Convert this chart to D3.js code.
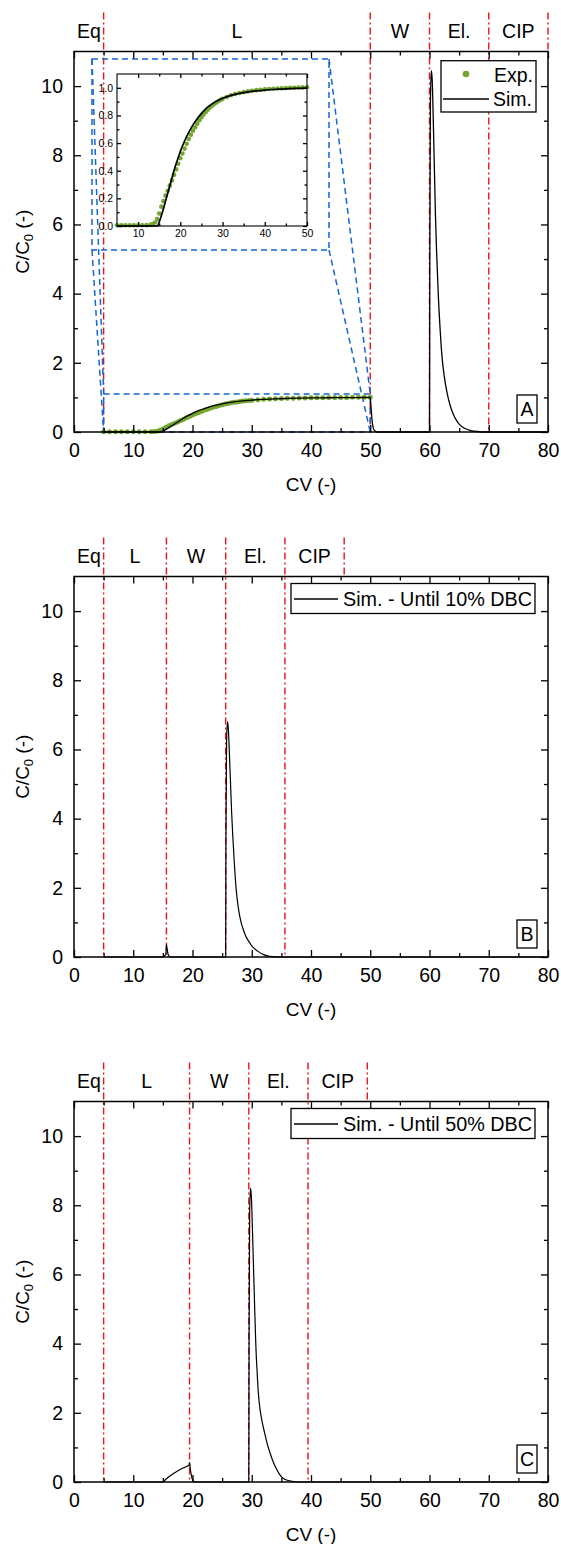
<!DOCTYPE html>
<html>
<head>
<meta charset="utf-8">
<script src="https://cdn.jsdelivr.net/npm/d3@7"></script>
<style>
  body { margin: 0; background: #fff; }
  svg { display: block; }
  text { font-family: "Liberation Sans", Arial, sans-serif; fill: #000; }
</style>
</head>
<body>
<svg id="chart" width="561" height="1544"></svg>
<script>
// ---- data ----
const sectionNames = ["Eq", "L", "W", "El.", "CIP"];
const boundsA = [0, 5, 50, 60, 70, 80];
const boundsB = [0, 5, 15.6, 25.6, 35.6, 45.6];
const boundsC = [0, 5, 19.5, 29.5, 39.5, 49.5];

const xTicks = [0, 10, 20, 30, 40, 50, 60, 70, 80];
const yTicks = [0, 2, 4, 6, 8, 10];
const insetXTicks = [10, 20, 30, 40, 50];
const insetYTicks = [0, 0.2, 0.4, 0.6, 0.8, 1.0];

// panel A, simulated [CV, C/C0]
const simA = [
  [5, 0], [14.6, 0], [15, 0.03], [15.5, 0.075], [16, 0.125], [16.5, 0.18], [17, 0.235],
  [17.5, 0.29], [18, 0.345], [18.5, 0.4], [19, 0.45], [19.5, 0.495], [20, 0.54],
  [21, 0.615], [22, 0.678], [23, 0.732], [24, 0.777], [25, 0.815], [26, 0.848],
  [27, 0.873], [28, 0.893], [29, 0.91], [30, 0.924], [32, 0.945], [34, 0.96],
  [36, 0.97], [38, 0.978], [40, 0.984], [42, 0.988], [44, 0.991], [46, 0.994],
  [48, 0.996], [50, 0.998], [50.1, 0.8], [50.3, 0.35], [50.5, 0.12], [50.8, 0.03],
  [51.2, 0], [60, 0], [60.05, 5], [60.15, 9.5], [60.3, 10.45], [60.45, 10.2],
  [60.6, 9.3], [60.8, 7.8], [61, 6.3], [61.2, 5.2], [61.5, 3.9], [61.8, 2.95],
  [62.1, 2.2], [62.5, 1.6], [63, 1.1], [63.5, 0.76], [64, 0.52], [64.5, 0.35],
  [65, 0.23], [66, 0.1], [67, 0.04], [68, 0.015], [70, 0], [80, 0]
];

// panel A, experimental [CV, C/C0]
const expA = [
  [5, 0.005], [6, 0.005], [7, 0.005], [8, 0.005], [9, 0.005], [10, 0.005], [11, 0.005],
  [12, 0.006], [13, 0.01], [13.5, 0.015], [14, 0.025], [14.5, 0.05], [15, 0.09],
  [15.5, 0.14], [16, 0.18], [16.5, 0.22], [17, 0.255], [17.5, 0.292], [18, 0.33],
  [18.5, 0.37], [19, 0.41], [19.5, 0.45], [20, 0.49], [20.5, 0.525], [21, 0.56],
  [21.5, 0.595], [22, 0.63], [22.5, 0.66], [23, 0.69], [23.5, 0.715], [24, 0.74],
  [24.5, 0.765], [25, 0.787], [25.5, 0.807], [26, 0.825], [26.5, 0.842], [27, 0.857],
  [27.5, 0.87], [28, 0.882], [28.5, 0.893], [29, 0.903], [29.5, 0.912], [30, 0.92],
  [31, 0.934], [32, 0.946], [33, 0.955], [34, 0.963], [35, 0.969], [36, 0.974],
  [37, 0.979], [38, 0.983], [39, 0.986], [40, 0.989], [41, 0.991], [42, 0.993],
  [43, 0.995], [44, 0.997], [45, 0.998], [46, 1.0], [47, 1.001], [48, 1.002],
  [49, 1.003], [50, 1.004]
];

// panel B, simulated until 10% DBC
const simB = [
  [5, 0], [14.8, 0], [15.2, 0.03], [15.5, 0.08], [15.6, 0.36], [15.7, 0.25],
  [15.85, 0.1], [16, 0.03], [16.3, 0], [25.6, 0], [25.65, 3.5], [25.75, 6.2],
  [25.9, 6.8], [26.05, 6.6], [26.2, 6.0], [26.4, 5.1], [26.6, 4.2], [26.8, 3.5],
  [27.1, 2.6], [27.4, 1.9], [27.8, 1.35], [28.2, 1.0], [28.6, 0.78], [29, 0.6],
  [29.5, 0.45], [30, 0.32], [31, 0.17], [32, 0.07], [33, 0.02], [35, 0], [80, 0]
];

// panel C, simulated until 50% DBC
const simC = [
  [5, 0], [15, 0], [15.5, 0.08], [16, 0.15], [16.5, 0.21], [17, 0.27], [17.5, 0.32],
  [18, 0.37], [18.5, 0.41], [19, 0.45], [19.4, 0.48], [19.5, 0.56], [19.6, 0.42],
  [19.8, 0.2], [20, 0.07], [20.2, 0.02], [20.5, 0], [29.5, 0], [29.55, 4],
  [29.65, 7.8], [29.8, 8.5], [29.95, 8.2], [30.1, 7.4], [30.3, 6.2], [30.5, 5.0],
  [30.7, 3.9], [30.9, 3.2], [31.1, 2.6], [31.4, 2.1], [31.8, 1.7], [32.2, 1.4],
  [32.7, 1.05], [33.2, 0.78], [33.7, 0.55], [34.2, 0.37], [34.7, 0.22], [35.2, 0.12],
  [36, 0.05], [37, 0.015], [38, 0], [80, 0]
];

// zoomed window shown in the inset (data units)
const zoomCv = [5, 50];
const zoomConc = [0, 1.1];

// ---- layout ----
const RED = "#e8141c";
const BLUE = "#1566d6";
const GREEN = "#74a62c";
const FONT = 19.5;
const TITLE = 19;

const left = 74, right = 548, plotH = 380.5;
const panelTops = [51.5, 576.5, 1101.5];

const svg = d3.select("#chart");
const x = d3.scaleLinear().domain([0, 80]).range([left, right]);
const xMinor = d3.range(5, 80, 10);
const yMinor = d3.range(1, 11, 2);

function styleAxis(g, size) {
  g.select(".domain").remove();
  g.selectAll(".tick line").attr("stroke", "#000").attr("stroke-width", 1.3);
  g.selectAll(".tick text").attr("font-size", size).attr("fill", "#000")
    .attr("font-family", '"Liberation Sans", Arial, sans-serif');
}

// box with mirrored inward ticks on all four sides
function frame(g, xs, ys, cfg) {
  const { major, minor, xt, yt, xm, ym, pad, font, lw } = cfg;
  const [x0, x1] = xs.range();
  const [bottom, top] = ys.range();
  const fx = cfg.fmtX || null, fy = cfg.fmtY || null;
  const ax = [
    [d3.axisBottom(xs).tickValues(xt).tickSize(-major).tickPadding(pad[0]).tickFormat(fx), `translate(0,${bottom})`],
    [d3.axisBottom(xs).tickValues(xm).tickSize(-minor).tickFormat(""), `translate(0,${bottom})`],
    [d3.axisTop(xs).tickValues(xt).tickSize(-major).tickFormat(""), `translate(0,${top})`],
    [d3.axisTop(xs).tickValues(xm).tickSize(-minor).tickFormat(""), `translate(0,${top})`],
    [d3.axisLeft(ys).tickValues(yt).tickSize(-major).tickPadding(pad[1]).tickFormat(fy), `translate(${x0},0)`],
    [d3.axisLeft(ys).tickValues(ym).tickSize(-minor).tickFormat(""), `translate(${x0},0)`],
    [d3.axisRight(ys).tickValues(yt).tickSize(-major).tickFormat(""), `translate(${x1},0)`],
    [d3.axisRight(ys).tickValues(ym).tickSize(-minor).tickFormat(""), `translate(${x1},0)`]
  ];
  ax.forEach(([a, tr]) => {
    const gg = g.append("g").attr("transform", tr).call(a);
    styleAxis(gg, font);
  });
  g.append("rect")
    .attr("x", x0).attr("y", top)
    .attr("width", x1 - x0).attr("height", bottom - top)
    .attr("fill", "none").attr("stroke", "#000").attr("stroke-width", lw);
}

function drawPanel(idx, cfg) {
  const top = panelTops[idx];
  const bottom = top + plotH;
  const y = d3.scaleLinear().domain([0, 11]).range([bottom, top]);
  const g = svg.append("g");

  // section separators and names
  const b = cfg.bounds;
  b.slice(1).forEach((v, i) => {
    const last = i === b.length - 2;
    g.append("line")
      .attr("x1", x(v)).attr("x2", x(v))
      .attr("y1", top - 39).attr("y2", last ? top : bottom)
      .attr("stroke", RED).attr("stroke-width", 1.4)
      .attr("stroke-dasharray", "7,3,2,3");
  });
  sectionNames.forEach((s, i) => {
    g.append("text")
      .attr("x", (x(b[i]) + x(b[i + 1])) / 2)
      .attr("y", top - 14)
      .attr("text-anchor", "middle")
      .attr("font-size", FONT)
      .text(s);
  });

  const line = d3.line().x((d) => x(d[0])).y((d) => y(d[1])).curve(d3.curveMonotoneX);

  if (cfg.exp) {
    // zoom marker + connectors
    const zx0 = x(zoomCv[0]), zx1 = x(zoomCv[1]);
    const zy0 = y(zoomConc[1]), zy1 = y(zoomConc[0]);
    const bx0 = left + 18, bx1 = left + 255, by0 = top + 7.5, by1 = top + 198.5;
    const put = (sel) => sel.attr("stroke", BLUE).attr("stroke-width", 1.5)
      .attr("stroke-dasharray", "6,4").attr("fill", "none");
    put(g.append("rect").attr("x", zx0).attr("y", zy0).attr("width", zx1 - zx0).attr("height", zy1 - zy0));
    put(g.append("rect").attr("x", bx0).attr("y", by0).attr("width", bx1 - bx0).attr("height", by1 - by0));
    [[bx0, by0, zx0, zy0], [bx0, by1, zx0, zy1], [bx1, by0, zx1, zy0], [bx1, by1, zx1, zy1]]
      .forEach(([a, c, d, e]) => put(g.append("line").attr("x1", a).attr("y1", c).attr("x2", d).attr("y2", e)));

    g.append("g").selectAll("circle").data(cfg.exp).join("circle")
      .attr("cx", (d) => x(d[0])).attr("cy", (d) => y(d[1])).attr("r", 2.5)
      .attr("fill", GREEN);
  }

  g.append("path").datum(cfg.sim).attr("d", line)
    .attr("fill", "none").attr("stroke", "#000").attr("stroke-width", cfg.exp ? 1.3 : 1.2);

  if (cfg.exp) {
    // inset
    const ix = d3.scaleLinear().domain(zoomCv).range([left + 43, left + 233]);
    const iy = d3.scaleLinear().domain(zoomConc).range([top + 174.5, top + 22.5]);
    const ig = g.append("g");
    ig.append("rect").attr("x", ix.range()[0]).attr("y", iy.range()[1])
      .attr("width", ix.range()[1] - ix.range()[0]).attr("height", iy.range()[0] - iy.range()[1])
      .attr("fill", "#fff");
    ig.append("g").selectAll("circle").data(cfg.exp).join("circle")
      .attr("cx", (d) => ix(d[0])).attr("cy", (d) => iy(d[1])).attr("r", 2.3)
      .attr("fill", GREEN);
    const iline = d3.line().x((d) => ix(d[0])).y((d) => iy(d[1])).curve(d3.curveMonotoneX);
    ig.append("path").datum(cfg.sim.filter((d) => d[0] <= 50)).attr("d", iline)
      .attr("fill", "none").attr("stroke", "#000").attr("stroke-width", 1.7);
    frame(ig, ix, iy, {
      major: 4, minor: 2.5, xt: insetXTicks, yt: insetYTicks,
      xm: [15, 25, 35, 45], ym: [0.1, 0.3, 0.5, 0.7, 0.9],
      pad: [4, 4], font: 10.5, lw: 1.1, fmtY: d3.format(".1f")
    });
  }

  // legend
  const lg = g.append("g");
  if (cfg.exp) {
    lg.append("rect").attr("x", 441).attr("y", top + 9.2).attr("width", 95).attr("height", 51.3)
      .attr("fill", "#fff").attr("stroke", "#000").attr("stroke-width", 1.3);
    lg.append("circle").attr("cx", 466).attr("cy", top + 22.5).attr("r", 3.3).attr("fill", GREEN);
    lg.append("text").attr("x", 494).attr("y", top + 30.5).attr("font-size", FONT).text("Exp.");
    lg.append("line").attr("x1", 443).attr("x2", 489).attr("y1", top + 47.5).attr("y2", top + 47.5)
      .attr("stroke", "#000").attr("stroke-width", 1.3);
    lg.append("text").attr("x", 493).attr("y", top + 54).attr("font-size", FONT).text("Sim.");
  } else {
    lg.append("rect").attr("x", 291).attr("y", top + 7).attr("width", 244).attr("height", 30)
      .attr("fill", "#fff").attr("stroke", "#000").attr("stroke-width", 1.3);
    lg.append("line").attr("x1", 294).attr("x2", 338).attr("y1", top + 22.5).attr("y2", top + 22.5)
      .attr("stroke", "#000").attr("stroke-width", 1.3);
    lg.append("text").attr("x", 343).attr("y", top + 29).attr("font-size", FONT)
      .attr("textLength", 189).attr("lengthAdjust", "spacingAndGlyphs").text(cfg.legend);
  }

  // panel letter
  g.append("rect").attr("x", 517).attr("y", bottom - 37).attr("width", 20).attr("height", 28)
    .attr("fill", "#fff").attr("stroke", "#000").attr("stroke-width", 1.3);
  g.append("text").attr("x", 527).attr("y", bottom - 16).attr("text-anchor", "middle")
    .attr("font-size", FONT).text(cfg.letter);

  frame(g, x, y, {
    major: 7, minor: 4, xt: xTicks, yt: yTicks, xm: xMinor, ym: yMinor,
    pad: [11, 11], font: FONT, lw: 1.5
  });

  // axis titles
  g.append("text").attr("x", (left + right) / 2).attr("y", bottom + 59)
    .attr("text-anchor", "middle").attr("font-size", TITLE).text("CV (-)");
  const yt = g.append("text")
    .attr("transform", `translate(29,${(top + bottom) / 2}) rotate(-90)`)
    .attr("text-anchor", "middle").attr("font-size", TITLE);
  yt.append("tspan").text("C/C");
  yt.append("tspan").attr("font-size", 13).attr("dy", 4).text("0");
  yt.append("tspan").attr("dy", -4).text(" (-)");
}

drawPanel(0, { bounds: boundsA, sim: simA, exp: expA, letter: "A" });
drawPanel(1, { bounds: boundsB, sim: simB, exp: null, letter: "B", legend: "Sim. - Until 10% DBC" });
drawPanel(2, { bounds: boundsC, sim: simC, exp: null, letter: "C", legend: "Sim. - Until 50% DBC" });
</script>
</body>
</html>
